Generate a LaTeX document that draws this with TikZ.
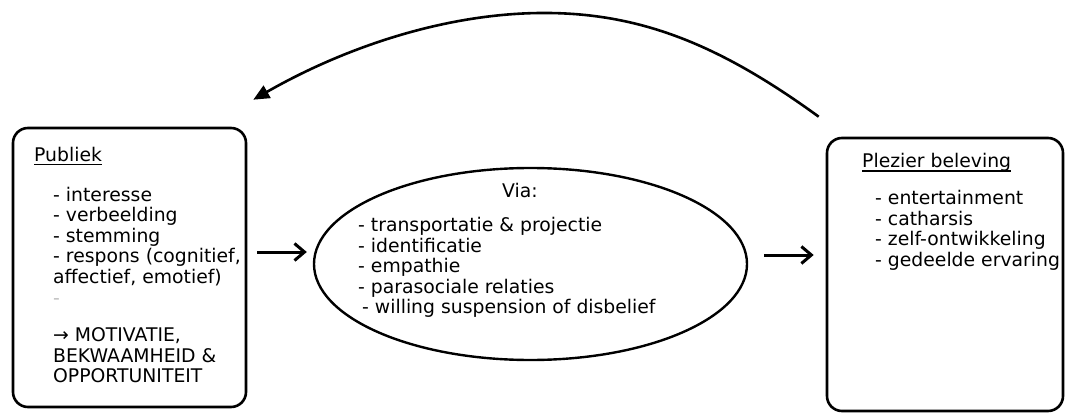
\documentclass[tikz,border=0pt]{standalone}
\usepackage{fontspec}
\setmainfont{DejaVu Sans}
\usetikzlibrary{shapes.geometric,arrows.meta}
\tikzset{
  box/.style={draw, line width=2.6pt, rounded corners=15pt, inner sep=0pt},
  oval/.style={draw, ellipse, line width=2.4pt, inner sep=0pt, minimum width=433pt, minimum height=192pt},
  txt/.style={anchor=base west, inner sep=0pt, font=\fontsize{18.8}{20.6}\selectfont},
  ctxt/.style={anchor=base, inner sep=0pt, font=\fontsize{18.8}{20.6}\selectfont},
  harrow/.style={line width=3pt, -{Straight Barb[length=10pt, width=17pt, line width=3pt]}},
  backarrow/.style={line width=2.6pt, -{Triangle[length=16pt, width=14pt]}},
  uline/.style={line width=1.1pt}
}
\begin{document}
\begin{tikzpicture}[x=1pt, y=-1pt]
\useasboundingbox (0,0) rectangle (1065,414);
% shapes
\node[box, minimum width=233pt, minimum height=279pt] (pub) at (129.5,267.5) {};
\node[oval] (via) at (530.5,264) {};
\node[box, minimum width=236pt, minimum height=273pt] (plez) at (945,274.5) {};
% left box text
\node[txt] (pubtitle) at (34,161.5) {Publiek};
\draw[uline] ([yshift=-2.6pt]pubtitle.base west) -- ([yshift=-2.6pt]pubtitle.base east);
\foreach \t/\yy [count=\i] in {{- interesse}/201, {- verbeelding}/221.6, {- stemming}/242.2, {- respons (cognitief,}/262.8, {affectief, emotief)}/283.4}
  \node[txt] (pubitem\i) at (53,\yy) {\t};
\node[txt, text=black!25] (pubdash) at (53,304) {-};
\foreach \t/\yy [count=\i] in {{→ MOTIVATIE,}/341.7, {BEKWAAMHEID \&}/362.3, {OPPORTUNITEIT}/382.9}
  \node[txt] (pubcap\i) at (53,\yy) {\t};
% ellipse text
\node[ctxt] (viatitle) at (520,198) {Via:};
\foreach \t/\yy [count=\i] in {{- transportatie \& projectie}/231.5, {- identificatie}/252, {- empathie}/272.5, {- parasociale relaties}/293}
  \node[txt] (viaitem\i) at (358,\yy) {\t};
\node[txt] (viaitem5) at (362,313.6) {- willing suspension of disbelief};
% right box text
\node[txt] (plztitle) at (862,168) {Plezier beleving};
\draw[uline] ([yshift=-3pt]plztitle.base west) -- ([yshift=-3pt]plztitle.base east);
\foreach \t/\yy [count=\i] in {{- entertainment}/204.5, {- catharsis}/225.1, {- zelf-ontwikkeling}/245.7, {- gedeelde ervaring}/266.3}
  \node[txt] (plzitem\i) at (875,\yy) {\t};
% connectors
\draw[harrow] ([shift={(10,-15.5)}]pub.east) -- ([shift={(-6,-12)}]via.west);
\draw[harrow] ([shift={(16,-9)}]via.east) -- ([shift={(-12,-19.5)}]plez.west);
\draw[backarrow] ([shift={(-7,-20)}]plez.north west) .. controls (720,45) and (640,12) .. (540,13)
  .. controls (440,14) and (340,50) .. ([shift={(6,-27)}]pub.north east);
\end{tikzpicture}
\end{document}
